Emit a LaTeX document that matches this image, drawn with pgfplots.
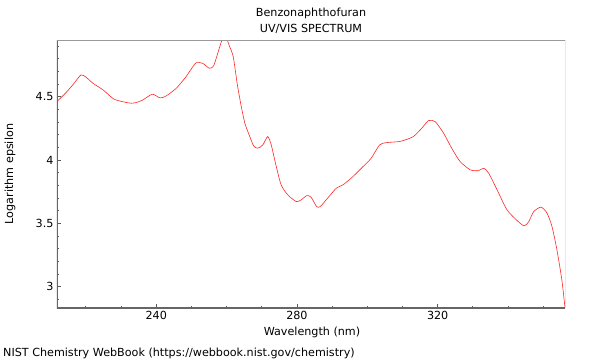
\documentclass[border=0pt]{standalone}
\usepackage{pgfplots}
\pgfplotsset{compat=1.18}
\usepackage{fontspec}
\setmainfont{DejaVu Sans}
\begin{document}
\begin{tikzpicture}[x=1bp,y=1bp]
\path[use as bounding box] (-57,-52) rectangle (543,308);
\begin{axis}[
  at={(0,0)}, anchor=south west,
  scale only axis, width=508bp, height=268bp,
  xmin=211.8, xmax=356.2, ymin=2.832, ymax=4.947,
  xtick={240,280,320}, minor xtick={220,230,250,260,270,290,300,310,330,340,350},
  ytick={3,3.5,4,4.5},
  minor ytick={2.9,3.1,3.2,3.3,3.4,3.6,3.7,3.8,3.9,4.1,4.2,4.3,4.4,4.6,4.7,4.8,4.9},
  tick pos=left, tick align=inside,
  major tick length=4.5bp, minor tick length=2.5bp,
  every tick/.style={color=black!65, line width=0.8bp},
  minor tick style={color=black!65, line width=0.8bp},
  axis line style={draw=none},
  ticklabel style={font=\fontsize{11.2}{13}\selectfont},
  /pgf/number format/assume math mode=true,
  yticklabel style={/pgf/number format/fixed},
  clip=true,
]
\addplot[color=red!85!white, line width=0.6bp, smooth, tension=0.4] coordinates {
(211.8,4.462) (214.2,4.527) (216.5,4.600) (218.6,4.671) (220.0,4.655) (222.0,4.606)
(224.9,4.553) (227.9,4.482) (230.5,4.460) (232.9,4.448) (234.5,4.455) (236.2,4.474)
(238.9,4.519) (241.1,4.490) (242.8,4.505) (245.7,4.566) (248.5,4.658) (250.0,4.720)
(251.4,4.768) (253.2,4.763) (255.1,4.724) (256.3,4.742) (257.5,4.842) (258.6,4.940)
(259.3,4.960) (260.1,4.950) (260.8,4.900) (261.9,4.815) (263.0,4.606) (264.0,4.448) (265.2,4.290)
(266.6,4.185) (267.7,4.111) (268.9,4.093) (270.3,4.119) (271.7,4.185) (272.7,4.119)
(273.9,3.975) (275.5,3.804) (277.4,3.725) (279.8,3.672) (281.2,3.685) (282.8,3.719)
(284.0,3.707) (285.6,3.632) (286.6,3.632) (288.3,3.685) (291.2,3.778) (293.1,3.804)
(295.9,3.869) (298.8,3.948) (301.1,4.014) (303.5,4.119) (305.4,4.137) (309.0,4.145)
(310.7,4.158) (313.1,4.185) (315.5,4.251) (317.4,4.311) (319.3,4.303) (321.7,4.211)
(324.0,4.093) (326.4,3.987) (329.3,3.922) (331.6,3.916) (333.1,3.935) (334.5,3.896)
(336.9,3.764) (339.7,3.607) (342.6,3.522) (344.6,3.480) (345.9,3.514) (347.3,3.593)
(349.4,3.628) (351.1,3.580) (352.5,3.475) (353.9,3.291) (355.3,3.054) (356.2,2.832)
};
\draw[black!60, line width=1.3bp] (rel axis cs:0,1) -- (rel axis cs:0,0) -- (rel axis cs:1,0);
\draw[black!40, line width=2bp] (rel axis cs:0,1) -- (rel axis cs:1,1);
\draw[black!70, line width=0.9bp] (rel axis cs:1,0) -- (rel axis cs:1,1);
\end{axis}
\node[font=\fontsize{11.2}{13}\selectfont] at (254,295) {Benzonaphthofuran};
\node[font=\fontsize{11.2}{13}\selectfont] at (254,279) {UV/VIS SPECTRUM};
\node[font=\fontsize{11.2}{13}\selectfont] at (255,-24) {Wavelength (nm)};
\node[font=\fontsize{11.2}{13}\selectfont, rotate=90] at (-47,134) {Logarithm epsilon};
\node[font=\fontsize{11.2}{13}\selectfont, anchor=west, inner sep=0pt] at (-54,-45) {NIST Chemistry WebBook (https://webbook.nist.gov/chemistry)};
\end{tikzpicture}
\end{document}
